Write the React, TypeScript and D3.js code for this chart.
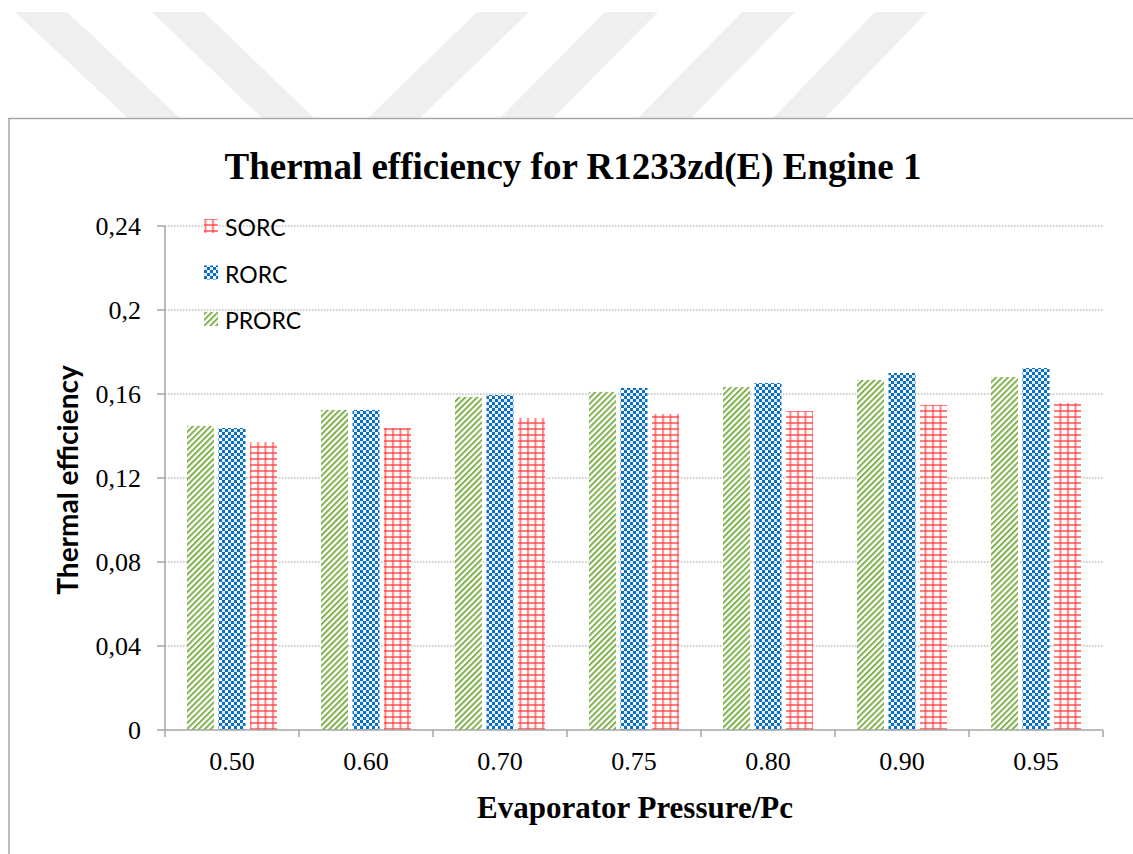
import React from "react";
import * as d3 from "d3";

const categories = ["0.50", "0.60", "0.70", "0.75", "0.80", "0.90", "0.95"];
const seriesNames = ["PRORC", "RORC", "SORC"];
const proRC = [0.1448, 0.1524, 0.1586, 0.161, 0.1633, 0.1667, 0.1681];
const roRC = [0.1438, 0.1524, 0.1595, 0.1629, 0.1652, 0.17, 0.1724];
const soRC = [0.1371, 0.1438, 0.1486, 0.1505, 0.1519, 0.1548, 0.1557];
const yTicks = [0, 0.04, 0.08, 0.12, 0.16, 0.2, 0.24];
const yTickLabels = ["0", "0,04", "0,08", "0,12", "0,16", "0,2", "0,24"];
const legendOrder = ["SORC", "RORC", "PRORC"];

const seriesValues: Record<string, number[]> = { PRORC: proRC, RORC: roRC, SORC: soRC };
const patternId: Record<string, string> = { PRORC: "pGreen", RORC: "pBlue", SORC: "pRed" };

// decorative watermark stripes (top banner)
const watermark: [number, number, number, number][] = [
  [15, 67, 128, 180],
  [152, 204, 262, 314],
  [477, 529, 368, 420],
  [605, 658, 500, 553],
  [742, 795, 638, 691],
  [875, 927, 773, 825],
];

export default function App() {
  const W = 1133, H = 854;
  const left = 165, right = 1103, top = 226, bottom = 730;
  const x = d3.scaleBand<string>().domain(categories).range([left, right]).padding(0);
  const inner = d3.scaleBand<string>().domain(seriesNames).range([0, 90]).paddingInner(0.143).paddingOuter(0);
  const y = d3.scaleLinear().domain([0, 0.24]).range([bottom, top]);
  const groupOffset = (x.bandwidth() - 90) / 2;
  const gray = "#a6a6a6";

  return (
    <svg width={W} height={H} style={{ position: "absolute", left: 0, top: 0, background: "#fff" }}>
      <defs>
        <pattern id="pGreen" patternUnits="userSpaceOnUse" width="4.2" height="10" patternTransform="rotate(45)">
          <rect x="0" y="0" width="4.2" height="10" fill="#ffffff" />
          <rect x="0" y="0" width="2" height="10" fill="#7fb24e" />
        </pattern>
        <pattern id="pBlue" patternUnits="userSpaceOnUse" width="6" height="6">
          <rect x="0" y="0" width="6" height="6" fill="#ffffff" />
          <rect x="0" y="0" width="3" height="3" fill="#0a6fc2" />
          <rect x="3" y="3" width="3" height="3" fill="#0a6fc2" />
          <rect x="0" y="3" width="3" height="3" fill="#0a6fc2" opacity="0.15" />
        </pattern>
        <pattern id="pRed" patternUnits="userSpaceOnUse" width="7.5" height="6">
          <rect x="0" y="0" width="7.5" height="6" fill="#ffffff" />
          <rect x="2" y="0" width="2" height="6" fill="#ff3b3b" opacity="0.65" />
          <rect x="0" y="2" width="7.5" height="2" fill="#ff3b3b" opacity="0.65" />
        </pattern>
      </defs>

      {watermark.map((s, i) => (
        <polygon
          key={i}
          points={`${s[0]},12 ${s[1]},12 ${s[3]},118 ${s[2]},118`}
          fill="#efefef"
        />
      ))}

      {/* chart frame */}
      <line x1={8} y1={118.5} x2={W} y2={118.5} stroke={gray} strokeWidth={1.5} />
      <line x1={9} y1={118} x2={9} y2={H} stroke={gray} strokeWidth={1.5} />

      {/* title */}
      <text x={573} y={179} textAnchor="middle" fontFamily="'Liberation Serif', 'Times New Roman', serif" fontWeight="bold" fontSize={37}>
        Thermal efficiency for R1233zd(E) Engine 1
      </text>

      {/* gridlines */}
      {yTicks.filter((t) => t > 0).map((t) => (
        <line key={t} x1={left} x2={right} y1={y(t)} y2={y(t)} stroke="#9a9a9a" strokeWidth={1} strokeDasharray="1.5,1.5" />
      ))}

      {/* y axis */}
      <line x1={left} x2={left} y1={top} y2={bottom} stroke={gray} strokeWidth={1.5} />
      {yTicks.map((t, i) => (
        <g key={t}>
          <line x1={left - 8} x2={left} y1={y(t)} y2={y(t)} stroke={gray} strokeWidth={1.5} />
          <text x={141} y={y(t) + 9} textAnchor="end" fontFamily="'Liberation Serif', 'Times New Roman', serif" fontSize={26}>
            {yTickLabels[i]}
          </text>
        </g>
      ))}

      {/* bars */}
      {seriesNames.map((s) =>
        categories.map((c, i) => {
          const v = seriesValues[s][i];
          const bx = (x(c) as number) + groupOffset + (inner(s) as number);
          return (
            <rect key={s + c} x={bx} y={y(v)} width={inner.bandwidth()} height={bottom - y(v)} fill={`url(#${patternId[s]})`} />
          );
        })
      )}

      {/* x axis */}
      <line x1={left} x2={right} y1={bottom} y2={bottom} stroke={gray} strokeWidth={1.5} />
      {[...categories.map((c) => x(c) as number), right].map((px, i) => (
        <line key={i} x1={px} x2={px} y1={bottom} y2={bottom + 7} stroke={gray} strokeWidth={1.5} />
      ))}
      {categories.map((c) => (
        <text key={c} x={(x(c) as number) + x.bandwidth() / 2} y={770} textAnchor="middle" fontFamily="'Liberation Serif', 'Times New Roman', serif" fontSize={26}>
          {c}
        </text>
      ))}

      {/* axis titles */}
      <text x={635} y={818} textAnchor="middle" fontFamily="'Liberation Serif', 'Times New Roman', serif" fontWeight="bold" fontSize={31}>
        Evaporator Pressure/Pc
      </text>
      <text transform="translate(78,480) rotate(-90)" textAnchor="middle" fontFamily="Lato, 'Noto Sans', sans-serif" fontWeight="bold" fontSize={28}>
        Thermal efficiency
      </text>

      {/* legend */}
      {legendOrder.map((s, i) => {
        const ly = 219 + i * 46.5;
        return (
          <g key={s}>
            <rect x={204} y={ly} width={14} height={14} fill={`url(#${patternId[s]})`} />
            <text x={225} y={ly + 17} fontFamily="Lato, 'Noto Sans', sans-serif" fontSize={23}>
              {s}
            </text>
          </g>
        );
      })}
    </svg>
  );
}
